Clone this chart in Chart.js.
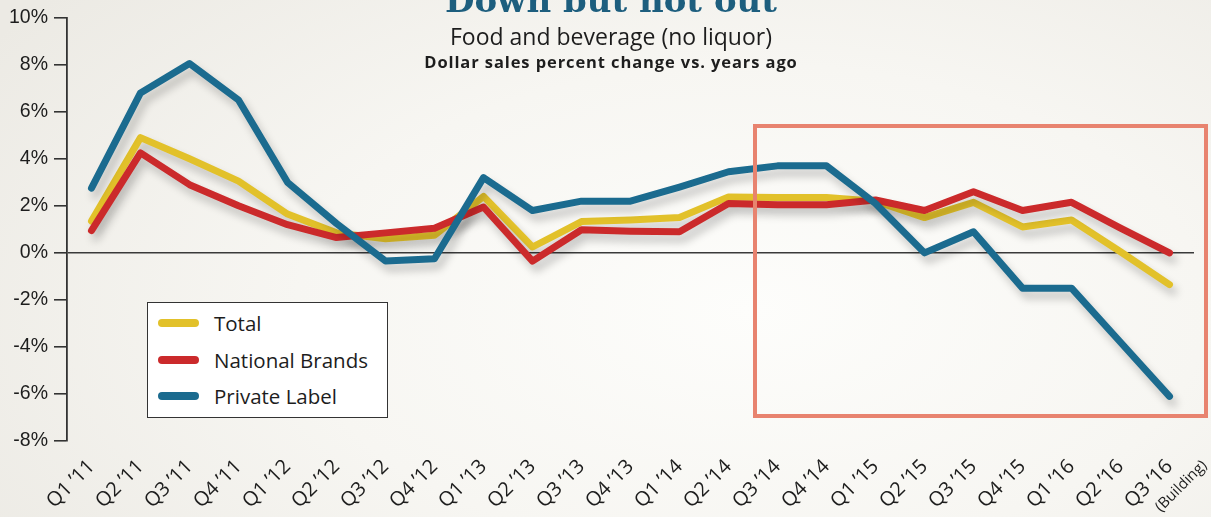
<!DOCTYPE html>
<html>
<head>
<meta charset="utf-8">
<script src="https://cdn.jsdelivr.net/npm/chart.js@4.4.1/dist/chart.umd.min.js"></script>
<style>
  html, body { margin: 0; padding: 0; }
  body {
    width: 1211px; height: 517px; overflow: hidden; position: relative;
    background: radial-gradient(ellipse 75% 95% at 62% 60%, #fdfdfb 0%, #f7f6f2 50%, #eceae4 100%);
    font-family: "Open Sans", Lato, sans-serif;
    color: #1d1d1d;
  }
  #chartWrap { position: absolute; left: 0; top: 0; width: 1211px; height: 517px; }
  .hdr { position: absolute; left: 0; width: 1222px; text-align: center; white-space: nowrap; }
  .hdr.main { top: -17px; font-family: "DejaVu Serif", serif; font-weight: bold; font-size: 34px; line-height: 34px; color: #1d5e7e; }
  .hdr.sub { top: 22px; font-size: 23px; line-height: 28px; }
  .hdr.sub2 { top: 52px; font-size: 16.5px; line-height: 20px; font-weight: 700; letter-spacing: 0.9px; }
  #legend {
    position: absolute; left: 147px; top: 302px; width: 241px; height: 116px;
    background: #fff; border: 1.5px solid #333; box-sizing: border-box;
  }
  .lg-item { position: absolute; left: 10px; height: 26px; display: flex; align-items: center; font-size: 20.5px; }
  .lg-swatch { width: 41px; height: 8px; border-radius: 4px; margin-right: 15px; }
  #focusBox {
    position: absolute; left: 753px; top: 124px; width: 455px; height: 294px;
    border: 4.5px solid #e8836f; box-sizing: border-box;
  }
</style>
</head>
<body>
<div id="chartWrap"><canvas id="salesChart" width="1211" height="517"></canvas></div>
<div class="hdr main">Down but not out</div>
<div class="hdr sub">Food and beverage (no liquor)</div>
<div class="hdr sub2">Dollar sales percent change vs. years ago</div>
<div id="focusBox"></div>
<div id="legend"></div>
<script>
const quarters = [
  "Q1 ’11", "Q2 ’11", "Q3 ’11", "Q4 ’11",
  "Q1 ’12", "Q2 ’12", "Q3 ’12", "Q4 ’12",
  "Q1 ’13", "Q2 ’13", "Q3 ’13", "Q4 ’13",
  "Q1 ’14", "Q2 ’14", "Q3 ’14", "Q4 ’14",
  "Q1 ’15", "Q2 ’15", "Q3 ’15", "Q4 ’15",
  "Q1 ’16", "Q2 ’16", "Q3 ’16"
];
const lastQuarterNote = "(Building)";
const totalSales     = [1.35, 4.9, 4.0, 3.05, 1.65, 0.85, 0.6, 0.75, 2.4, 0.25, 1.33, 1.4, 1.5, 2.38, 2.35, 2.35, 2.2, 1.5, 2.15, 1.1, 1.4, 0.05, -1.35];
const nationalBrands = [0.95, 4.25, 2.9, 2.0, 1.2, 0.65, 0.85, 1.05, 1.95, -0.35, 0.98, 0.92, 0.9, 2.1, 2.05, 2.05, 2.25, 1.8, 2.6, 1.8, 2.15, 1.05, 0.0];
const privateLabel   = [2.75, 6.8, 8.05, 6.5, 3.0, 1.25, -0.35, -0.25, 3.2, 1.8, 2.2, 2.2, 2.8, 3.45, 3.7, 3.7, 2.1, 0.0, 0.9, -1.5, -1.5, -3.8, -6.1];
const yTicks = [-8, -6, -4, -2, 0, 2, 4, 6, 8, 10];

const series = [
  { label: 'Total', data: totalSales, color: '#e2c12a', order: 2 },
  { label: 'National Brands', data: nationalBrands, color: '#cb2a2b', order: 1 },
  { label: 'Private Label', data: privateLabel, color: '#1b6b8f', order: 0 }
];

// legend box (html, sits inside the plot like the original)
const legendEl = document.getElementById('legend');
legendEl.innerHTML = series.map((s, i) => `
  <div class="lg-item" style="top:${7 + i * 36.5}px">
    <span class="lg-swatch" style="background:${s.color}"></span><span>${s.label}</span>
  </div>`).join('');

// soft drop shadow under each line
const lineShadow = {
  id: 'lineShadow',
  beforeDatasetDraw(chart) {
    const ctx = chart.ctx;
    ctx.save();
    ctx.shadowColor = 'rgba(0,0,0,0.22)';
    ctx.shadowBlur = 9;
    ctx.shadowOffsetX = 4;
    ctx.shadowOffsetY = 7;
  },
  afterDatasetDraw(chart) { chart.ctx.restore(); }
};

// small "(Building)" note next to the last quarter label
const lastTickNote = {
  id: 'lastTickNote',
  afterDraw(chart) {
    const xs = chart.scales.x;
    const x = xs.getPixelForTick(quarters.length - 1);
    const ctx = chart.ctx;
    ctx.save();
    ctx.translate(x + 35, xs.top + 22);
    ctx.rotate(-Math.PI / 4);
    ctx.font = '15px "Open Sans"';
    ctx.fillStyle = '#1d1d1d';
    ctx.textAlign = 'right';
    ctx.textBaseline = 'middle';
    ctx.fillText(lastQuarterNote, 0, 0);
    ctx.restore();
  }
};

new Chart(document.getElementById('salesChart'), {
  type: 'line',
  data: {
    labels: quarters,
    datasets: series.map(s => ({
      label: s.label,
      data: s.data,
      borderColor: s.color,
      backgroundColor: s.color,
      borderWidth: 7,
      borderCapStyle: 'round',
      borderJoinStyle: 'round',
      pointRadius: 0,
      tension: 0,
      order: s.order
    }))
  },
  options: {
    responsive: false,
    animation: false,
    layout: { padding: { top: 17, right: 17, left: 0, bottom: 0 } },
    plugins: { legend: { display: false }, tooltip: { enabled: false } },
    scales: {
      x: {
        offset: true,
        grid: { display: false, drawTicks: false },
        border: { display: false },
        ticks: {
          color: '#1d1d1d',
          font: { family: 'Open Sans', size: 20 },
          minRotation: 45, maxRotation: 45,
          padding: 14,
          autoSkip: false
        },
        afterFit(scale) { scale.height = 76; }
      },
      y: {
        min: -8, max: 10,
        afterBuildTicks(scale) { scale.ticks = yTicks.map(v => ({ value: v })); },
        grid: {
          color: ctx => ctx.tick && ctx.tick.value === 0 ? '#3a3a3a' : 'rgba(0,0,0,0)',
          lineWidth: 1.6,
          drawTicks: true,
          tickLength: 13,
          tickColor: '#333',
          tickWidth: 1.6
        },
        border: { display: true, color: '#333', width: 1.8 },
        ticks: {
          color: '#1d1d1d',
          font: { family: 'Liberation Sans', size: 19.5 },
          padding: 6,
          callback: v => v + '%'
        },
        afterFit(scale) { scale.width = 67; }
      }
    }
  },
  plugins: [lineShadow, lastTickNote]
});
</script>
</body>
</html>
